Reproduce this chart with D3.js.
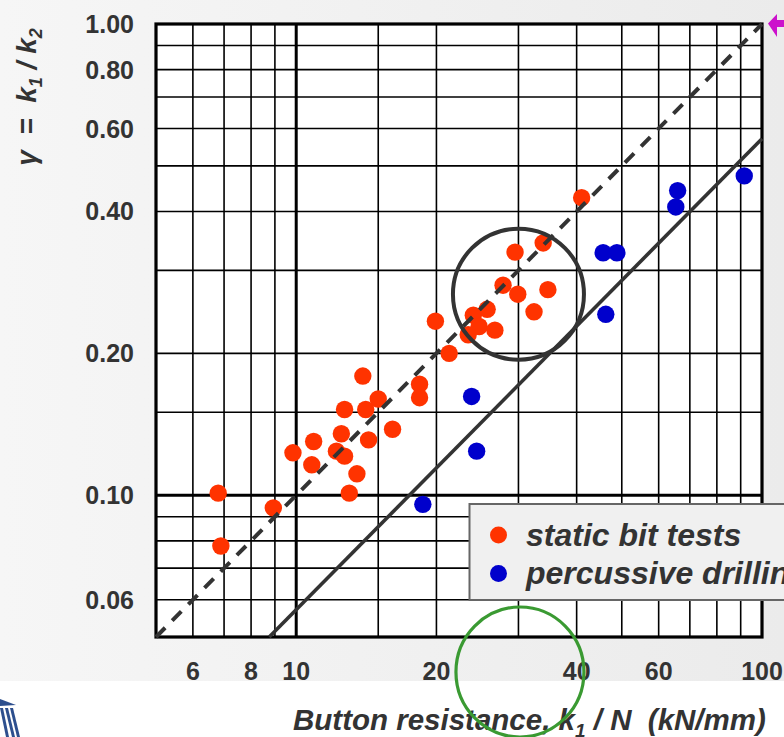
<!DOCTYPE html>
<html>
<head>
<meta charset="utf-8">
<script src="https://cdn.jsdelivr.net/npm/d3@7"></script>
<style>
  html, body { margin: 0; padding: 0; background: #ffffff; }
  svg { display: block; font-family: "Liberation Sans", Arial, sans-serif; }
</style>
</head>
<body>
<svg id="chart" width="784" height="737"></svg>
<script>
// ---------- data ----------
const xTicks = [6, 8, 10, 20, 40, 60, 100];
const xTickLabels = ["6", "8", "10", "20", "40", "60", "100"];
const yTicks = [1.0, 0.8, 0.6, 0.4, 0.2, 0.1, 0.06];
const yTickLabels = ["1.00", "0.80", "0.60", "0.40", "0.20", "0.10", "0.06"];
const xGrid = [6, 7, 8, 9, 15, 20, 30, 40, 50, 60, 70, 80, 90];
const yGrid = [0.06, 0.07, 0.08, 0.09, 0.15, 0.2, 0.3, 0.4, 0.5, 0.6, 0.7, 0.8, 0.9];
const xMajor = [10];
const yMajor = [0.1];

const staticX = [41.0, 33.9, 29.5, 27.8, 29.9, 34.7, 32.4, 25.7, 24.0, 24.7, 26.7, 23.4, 19.9, 21.3,
                 13.9, 18.4, 18.4, 15.0, 12.7, 14.1, 16.1, 10.9, 12.5, 14.3, 9.84, 12.2, 12.7, 10.8,
                 13.5, 13.0, 6.80, 8.93, 6.89];
const staticY = [0.428, 0.343, 0.328, 0.279, 0.267, 0.273, 0.245, 0.248, 0.241, 0.228, 0.224, 0.219, 0.234, 0.200,
                 0.179, 0.172, 0.161, 0.160, 0.152, 0.152, 0.138, 0.130, 0.135, 0.131, 0.123, 0.124, 0.121, 0.116,
                 0.111, 0.101, 0.101, 0.094, 0.078];
const drillX = [45.6, 48.8, 46.2, 65.9, 65.3, 91.6, 23.8, 24.4, 18.7];
const drillY = [0.327, 0.327, 0.242, 0.443, 0.409, 0.476, 0.162, 0.124, 0.0956];

const dashedLine = [[5, 0.05], [100, 1.0]];
const solidLine = [[8.75, 0.05], [100, 0.571]];
const highlightCenter = [30, 0.267];

const seriesNames = ["static bit tests", "percussive drilling"];
const seriesColors = ["#ff3300", "#0000cc"];

// ---------- chart ----------
const svg = d3.select("#chart");
const W = 784, H = 737;
const L = 156, R = 762, T = 24, B = 637;

const x = d3.scaleLog().domain([5, 100]).range([L, R]);
const y = d3.scaleLog().domain([0.05, 1]).range([B, T]);

// background
const defs = svg.append("defs");
const grad = defs.append("linearGradient").attr("id", "bg").attr("x1", "0").attr("x2", "1").attr("y1", "0").attr("y2", "0");
grad.append("stop").attr("offset", "0").attr("stop-color", "#f6f6f6");
grad.append("stop").attr("offset", "1").attr("stop-color", "#ebebeb");
svg.append("rect").attr("x", 0).attr("y", 0).attr("width", W).attr("height", 681).attr("fill", "url(#bg)");
svg.append("rect").attr("x", 0).attr("y", 681).attr("width", W).attr("height", H - 681).attr("fill", "#ffffff");

// plot area
svg.append("rect").attr("x", L).attr("y", T).attr("width", R - L).attr("height", B - T).attr("fill", "#ffffff");

const grid = svg.append("g");
grid.selectAll(".vx").data(xGrid).join("line")
  .attr("x1", d => x(d)).attr("x2", d => x(d)).attr("y1", T).attr("y2", B)
  .attr("stroke", "#000").attr("stroke-width", 1.6);
grid.selectAll(".hy").data(yGrid).join("line")
  .attr("y1", d => y(d)).attr("y2", d => y(d)).attr("x1", L).attr("x2", R)
  .attr("stroke", "#000").attr("stroke-width", 1.6);
grid.selectAll(".vmx").data(xMajor).join("line")
  .attr("x1", d => x(d)).attr("x2", d => x(d)).attr("y1", T).attr("y2", B)
  .attr("stroke", "#000").attr("stroke-width", 3);
grid.selectAll(".hmy").data(yMajor).join("line")
  .attr("y1", d => y(d)).attr("y2", d => y(d)).attr("x1", L).attr("x2", R)
  .attr("stroke", "#000").attr("stroke-width", 3);
svg.append("rect").attr("x", L).attr("y", T).attr("width", R - L).attr("height", B - T)
  .attr("fill", "none").attr("stroke", "#000").attr("stroke-width", 3.2);

// tick labels
svg.append("g").selectAll("text").data(xTicks).join("text")
  .attr("x", d => x(d)).attr("y", 680)
  .attr("text-anchor", "middle").attr("font-size", 25).attr("font-weight", "bold").attr("fill", "#333")
  .text((d, i) => xTickLabels[i]);
svg.append("g").selectAll("text").data(yTicks).join("text")
  .attr("x", 134).attr("y", d => y(d)).attr("dy", "0.36em")
  .attr("text-anchor", "end").attr("font-size", 25).attr("font-weight", "bold").attr("fill", "#333")
  .text((d, i) => yTickLabels[i]);

// points
const pts = svg.append("g");
pts.selectAll(".s").data(staticX.map((v, i) => [v, staticY[i]])).join("circle")
  .attr("cx", d => x(d[0])).attr("cy", d => y(d[1])).attr("r", 8.7).attr("fill", seriesColors[0]);
pts.selectAll(".p").data(drillX.map((v, i) => [v, drillY[i]])).join("circle")
  .attr("cx", d => x(d[0])).attr("cy", d => y(d[1])).attr("r", 8.7).attr("fill", seriesColors[1]);

// reference lines
const line = d3.line().x(d => x(d[0])).y(d => y(d[1]));
svg.append("path").attr("d", line(dashedLine)).attr("fill", "none")
  .attr("stroke", "#333").attr("stroke-width", 4).attr("stroke-dasharray", "13,10");
svg.append("path").attr("d", line(solidLine)).attr("fill", "none")
  .attr("stroke", "#333").attr("stroke-width", 3.6);

// highlight circle
svg.append("circle").attr("cx", x(highlightCenter[0])).attr("cy", y(highlightCenter[1])).attr("r", 65.5)
  .attr("fill", "none").attr("stroke", "#333").attr("stroke-width", 4);

// legend
const lg = svg.append("g");
lg.append("rect").attr("x", 469.5).attr("y", 504).attr("width", 330).attr("height", 96)
  .attr("fill", "#f0f0f0").attr("stroke", "#666").attr("stroke-width", 2);
seriesNames.forEach((n, i) => {
  const cy = 535 + i * 38.5;
  lg.append("circle").attr("cx", 498.5).attr("cy", cy).attr("r", 8.5).attr("fill", seriesColors[i]);
  lg.append("text").attr("x", 526).attr("y", cy + 10.5).attr("font-size", 32)
    .attr("font-weight", "bold").attr("font-style", "italic").attr("fill", "#333").text(n);
});

// axis titles
const xt = svg.append("text").attr("x", 293).attr("y", 730)
  .attr("font-size", 29.5).attr("font-weight", "bold").attr("font-style", "italic").attr("fill", "#333")
  .style("white-space", "pre");
xt.append("tspan").text("Button resistance, k");
xt.append("tspan").attr("font-size", 19).attr("dy", 7).text("1");
xt.append("tspan").attr("dy", -7).text(" / N  (kN/mm)");

const yt = svg.append("text").attr("transform", "translate(36,97) rotate(-90)")
  .attr("text-anchor", "middle")
  .attr("font-size", 28).attr("font-weight", "bold").attr("font-style", "italic").attr("fill", "#333")
  .style("white-space", "pre");
yt.append("tspan").text("γ  =  k");
yt.append("tspan").attr("font-size", 18).attr("dy", 6).text("1");
yt.append("tspan").attr("dy", -6).text(" / k");
yt.append("tspan").attr("font-size", 18).attr("dy", 6).text("2");

// green annotation circle
svg.append("ellipse").attr("cx", x(30) + 1.5).attr("cy", 672).attr("rx", 64).attr("ry", 65)
  .attr("fill", "none").attr("stroke", "#3a9a32").attr("stroke-width", 3.2);

// magenta arrow
svg.append("path").attr("d", "M768,23.5 L777,14 L777,20 L784,20 L784,27 L777,27 L777,37 Z").attr("fill", "#cc11cc");

// logo fragment
const logo = svg.append("g").attr("fill", "#2d4f8e");
logo.append("path").attr("d", "M0,699 L16,705 L0,706 Z");
logo.append("path").attr("d", "M0,708 L3,708 L9,737 L6,737 Z");
logo.append("path").attr("d", "M5,708 L8,708 L15,737 L12,737 Z");
logo.append("path").attr("d", "M10,708 L13,708 L20,737 L17,737 Z");
</script>
</body>
</html>
